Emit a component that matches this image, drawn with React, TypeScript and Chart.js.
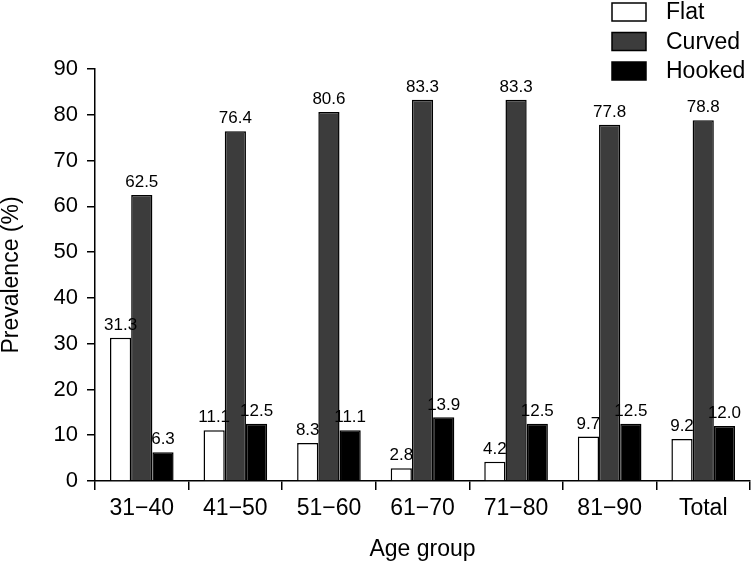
import React, { useEffect, useRef } from "react";
import { Chart, registerables } from "chart.js";

Chart.register(...registerables);

const categories = ["31−40", "41−50", "51−60", "61−70", "71−80", "81−90", "Total"];
const flatValues = [31.3, 11.1, 8.3, 2.8, 4.2, 9.7, 9.2];
const curvedValues = [62.5, 76.4, 80.6, 83.3, 83.3, 77.8, 78.8];
const hookedValues = [6.3, 12.5, 11.1, 13.9, 12.5, 12.5, 12.0];
const seriesNames = ["Flat", "Curved", "Hooked"];
const seriesColors = ["#ffffff", "#3c3c3c", "#000000"];
const yTicks = [0, 10, 20, 30, 40, 50, 60, 70, 80, 90];

const FONT = "'Liberation Sans', Arial, Helvetica, sans-serif";

const valueLabelPlugin = {
  id: "valueLabels",
  afterDatasetsDraw(chart: any) {
    const ctx = chart.ctx;
    ctx.save();
    ctx.font = `17px ${FONT}`;
    ctx.fillStyle = "#000";
    ctx.textAlign = "center";
    ctx.textBaseline = "bottom";
    chart.data.datasets.forEach((ds: any, i: number) => {
      const meta = chart.getDatasetMeta(i);
      meta.data.forEach((bar: any, j: number) => {
        const v = ds.data[j];
        ctx.fillText(Number(v).toFixed(1), bar.x, bar.y - 4);
      });
    });
    ctx.restore();
  },
};

const legendPlugin = {
  id: "customLegend",
  afterDraw(chart: any) {
    const ctx = chart.ctx;
    ctx.save();
    const boxX = 612;
    const boxW = 34;
    const boxH = 18;
    const centers = [12, 41.5, 71];
    seriesNames.forEach((name, i) => {
      const cy = centers[i];
      ctx.fillStyle = seriesColors[i];
      ctx.fillRect(boxX, cy - boxH / 2, boxW, boxH);
      ctx.strokeStyle = "#000";
      ctx.lineWidth = 1.5;
      ctx.strokeRect(boxX, cy - boxH / 2, boxW, boxH);
      ctx.fillStyle = "#000";
      ctx.font = `23px ${FONT}`;
      ctx.textAlign = "left";
      ctx.textBaseline = "middle";
      ctx.fillText(name, 666, cy + 1);
    });
    ctx.restore();
  },
};

export default function App() {
  const canvasRef = useRef<HTMLCanvasElement | null>(null);

  useEffect(() => {
    if (!canvasRef.current) return;
    const chart = new Chart(canvasRef.current, {
      type: "bar",
      data: {
        labels: categories,
        datasets: [
          { label: seriesNames[0], data: flatValues, backgroundColor: seriesColors[0] },
          { label: seriesNames[1], data: curvedValues, backgroundColor: seriesColors[1] },
          { label: seriesNames[2], data: hookedValues, backgroundColor: seriesColors[2] },
        ].map((d) => ({
          ...d,
          borderColor: "#000",
          borderWidth: 1.5,
          categoryPercentage: 0.68,
          barPercentage: 1,
        })),
      },
      options: {
        responsive: false,
        animation: false,
        devicePixelRatio: 1,
        layout: { padding: { top: 69, right: 3, left: 0, bottom: 0 } },
        plugins: {
          legend: { display: false },
          tooltip: { enabled: false },
        },
        scales: {
          x: {
            grid: {
              offset: true,
              drawOnChartArea: false,
              drawTicks: true,
              tickLength: 9,
              color: "#000",
              lineWidth: 1.5,
            },
            border: { color: "#000", width: 1.5 },
            ticks: {
              color: "#000",
              font: { family: FONT, size: 23 },
              padding: 5,
              maxRotation: 0,
              autoSkip: false,
            },
            title: {
              display: true,
              text: "Age group",
              color: "#000",
              font: { family: FONT, size: 23, lineHeight: 1 },
              padding: { top: 0, bottom: 1 },
            },
            afterFit(scale: any) {
              scale.height = 81;
            },
          },
          y: {
            min: 0,
            max: 90,
            afterBuildTicks(scale: any) {
              scale.ticks = yTicks.map((v) => ({ value: v }));
            },
            grid: {
              drawOnChartArea: false,
              drawTicks: true,
              tickLength: 8,
              color: "#000",
              lineWidth: 1.5,
            },
            border: { color: "#000", width: 1.5 },
            ticks: {
              color: "#000",
              font: { family: FONT, size: 22 },
              padding: 9,
            },
            title: {
              display: true,
              text: "Prevalence (%)",
              color: "#000",
              font: { family: FONT, size: 23, lineHeight: 1 },
              padding: { top: 0, bottom: 0 },
            },
            afterFit(scale: any) {
              scale.width = 95;
            },
          },
        },
      },
      plugins: [valueLabelPlugin, legendPlugin],
    });
    return () => chart.destroy();
  }, []);

  return (
    <div style={{ position: "fixed", left: 0, top: 0, width: 753, height: 562, background: "#fff" }}>
      <canvas ref={canvasRef} width={753} height={562} />
    </div>
  );
}
